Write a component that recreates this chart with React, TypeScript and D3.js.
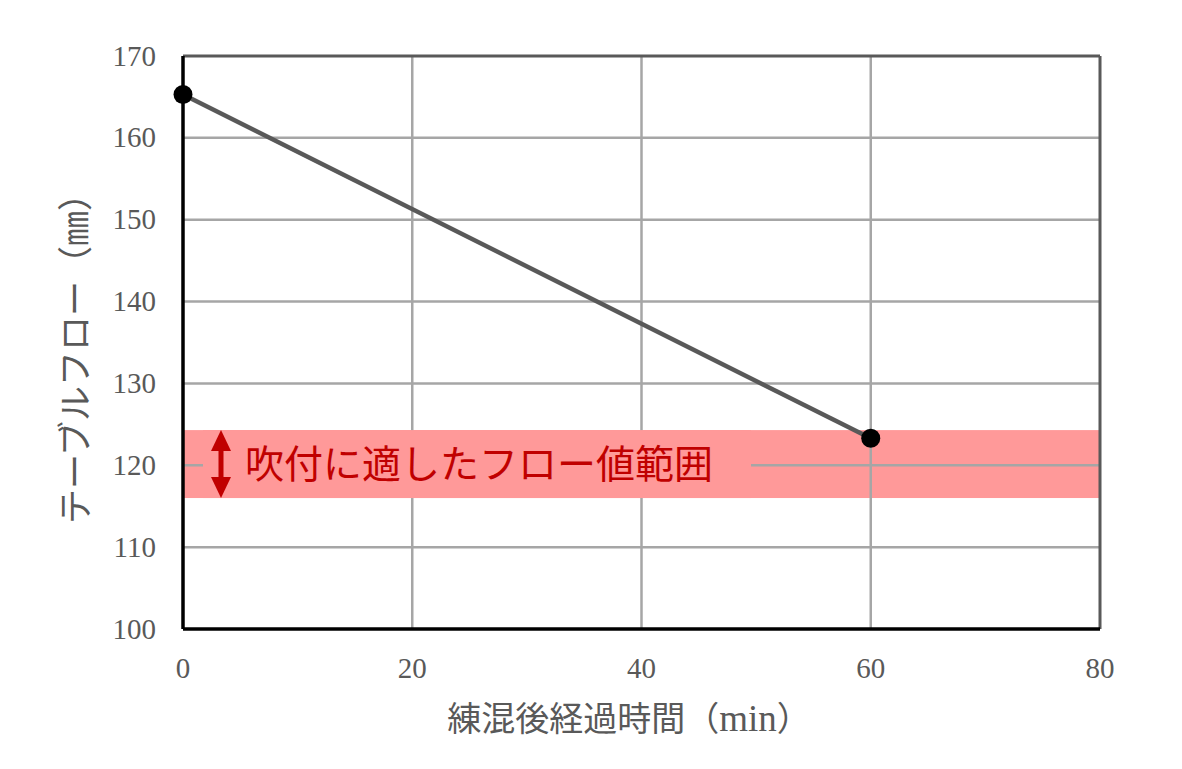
import { line, scaleLinear } from 'd3';

const timeMinutes = [0, 60];
const tableFlow = [165.3, 123.3];
const xTicks = [0, 20, 40, 60, 80];
const yTicks = [100, 110, 120, 130, 140, 150, 160, 170];
const sprayRange = [116, 124.3];
const bandLabel = '吹付に適したフロー値範囲';
const xLabel = '練混後経過時間';
const yLabel = 'テーブルフロー（㎜）';

const WIDTH = 1182;
const HEIGHT = 769;
const MARGIN = { top: 56, right: 82, bottom: 140, left: 183 };

const SERIF = '"Liberation Serif", "DejaVu Serif", serif';
const CJK = '"Noto Sans CJK JP", "Noto Sans", sans-serif';
const TEXT_GRAY = '#595959';
const GRID_GRAY = '#a6a6a6';
const BAND_PINK = '#ff9999';
const LABEL_RED = '#c00000';

export default function App() {
  const x = scaleLinear()
    .domain([0, 80])
    .range([MARGIN.left, WIDTH - MARGIN.right]);
  const y = scaleLinear()
    .domain([100, 170])
    .range([HEIGHT - MARGIN.bottom, MARGIN.top]);

  const points = timeMinutes.map((t, i) => ({ t, v: tableFlow[i] }));
  const path = line<{ t: number; v: number }>()
    .x((d) => x(d.t))
    .y((d) => y(d.v))(points);

  const bandTop = y(sprayRange[1]);
  const bandBottom = y(sprayRange[0]);
  const bandMid = (bandTop + bandBottom) / 2;
  const arrowX = MARGIN.left + 38;
  const labelX = arrowX + 24;

  return (
    <svg
      width={WIDTH}
      height={HEIGHT}
      style={{ position: 'absolute', left: 0, top: 0, background: '#fff' }}
    >
      {/* suitable range band, under the grid */}
      <rect
        x={x(0)}
        width={x(80) - x(0)}
        y={bandTop}
        height={bandBottom - bandTop}
        fill={BAND_PINK}
      />

      <g>
        {yTicks.slice(1, -1).map((tick) => (
          <line
            key={`gy-${tick}`}
            x1={x(0)}
            x2={x(80)}
            y1={y(tick)}
            y2={y(tick)}
            stroke={GRID_GRAY}
            strokeWidth={2.5}
          />
        ))}
        {xTicks.slice(1, -1).map((tick) => (
          <line
            key={`gx-${tick}`}
            x1={x(tick)}
            x2={x(tick)}
            y1={y(100)}
            y2={y(170)}
            stroke={GRID_GRAY}
            strokeWidth={2.5}
          />
        ))}
      </g>

      {/* label box covers the grid behind the text */}
      <rect
        x={arrowX - 18}
        width={548}
        y={bandTop}
        height={bandBottom - bandTop}
        fill={BAND_PINK}
      />

      {/* frame */}
      <line x1={x(0)} x2={x(80)} y1={y(170)} y2={y(170)} stroke={TEXT_GRAY} strokeWidth={3} />
      <line x1={x(80)} x2={x(80)} y1={y(170)} y2={y(100)} stroke={TEXT_GRAY} strokeWidth={3} />
      <line x1={x(0)} x2={x(80)} y1={y(100)} y2={y(100)} stroke="#000" strokeWidth={3.5} />
      <line x1={x(0)} x2={x(0)} y1={y(170)} y2={y(100)} stroke="#000" strokeWidth={3.5} />

      {/* double arrow */}
      <g fill={LABEL_RED}>
        <rect x={arrowX - 2.5} width={5} y={bandTop + 14} height={bandBottom - bandTop - 28} />
        <polygon
          points={`${arrowX},${bandTop} ${arrowX - 10},${bandTop + 21} ${arrowX + 10},${bandTop + 21}`}
        />
        <polygon
          points={`${arrowX},${bandBottom} ${arrowX - 10},${bandBottom - 21} ${arrowX + 10},${bandBottom - 21}`}
        />
      </g>
      <text
        x={labelX}
        y={bandMid}
        dy="0.36em"
        fontFamily={CJK}
        fontSize={39}
        fill={LABEL_RED}
      >
        {bandLabel}
      </text>

      {/* data */}
      <path d={path ?? ''} fill="none" stroke={TEXT_GRAY} strokeWidth={4.5} />
      {points.map((d) => (
        <circle key={d.t} cx={x(d.t)} cy={y(d.v)} r={9.5} fill="#000" />
      ))}

      {/* tick labels */}
      <g fontFamily={SERIF} fontSize={29} fill={TEXT_GRAY}>
        {yTicks.map((tick) => (
          <text key={`ty-${tick}`} x={x(0) - 27} y={y(tick)} dy="0.33em" textAnchor="end">
            {tick}
          </text>
        ))}
        {xTicks.map((tick) => (
          <text key={`tx-${tick}`} x={x(tick)} y={y(100) + 39} dy="0.33em" textAnchor="middle">
            {tick}
          </text>
        ))}
      </g>

      {/* axis titles */}
      <text
        x={629}
        y={731}
        textAnchor="middle"
        fill={TEXT_GRAY}
        fontSize={34}
        fontFamily={CJK}
      >
        {xLabel}
        <tspan fontFamily={CJK}>（</tspan>
        <tspan fontFamily={SERIF} fontSize={37}>min</tspan>
        <tspan fontFamily={CJK}>）</tspan>
      </text>
      <text
        transform={`translate(88 350) rotate(-90)`}
        textAnchor="middle"
        fill={TEXT_GRAY}
        fontSize={35}
        fontFamily={CJK}
      >
        {yLabel}
      </text>
    </svg>
  );
}
